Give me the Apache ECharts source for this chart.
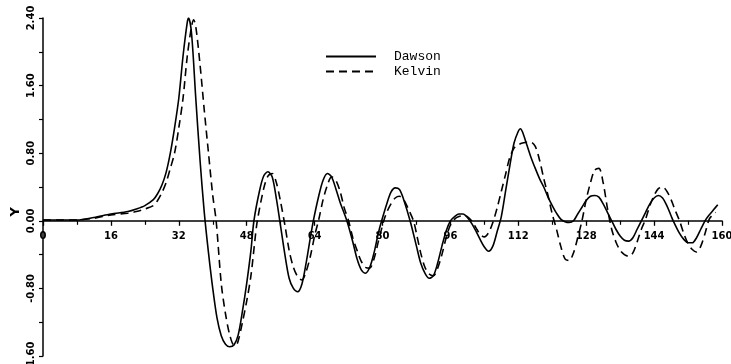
<!DOCTYPE html>
<html>
<head>
<meta charset="utf-8">
<script src="https://cdn.jsdelivr.net/npm/echarts@6/dist/echarts.min.js"></script>
<style>
html,body{margin:0;padding:0;background:#fff;}
#c{width:731px;height:364px;}
</style>
</head>
<body>
<div id="c"></div>
<script>
var xTicks = [0,16,32,48,64,80,96,112,128,144,160];
var yTicks = ["-1.60","-0.80","0.00","0.80","1.60","2.40"];

var dawsonX = [0,4,8,12,16,20,22,24,26,27,28,29,30,31,32,33,34,34.3,35,36,37,38,39,40,41,42,43,44,45,46,47,48,49,49.7,51,52,53,54,55,55.8,57,58,59,60,61,62,63,63.7,65,66,67,68,69,70,71.6,73,74,75,76,77,78,79,79.8,81,82,83,84,85,86.5,88,89,90,91,92,93,94,95,96,97,98,99,100,101,102,103,104,105,106,107,108,109,110,111,112,112.5,113,114,115,116,117,118,119,120,121,122,123,124,125,126,127,128,129,130,131,132,133,134,135,136,137,138,139,140,141,142,143,144,145,146,147,148,148.5,150,151,152,153,154,155,156,157,158,159];
var dawsonY = [0.01,0.01,0.01,0.04,0.08,0.11,0.14,0.18,0.25,0.32,0.42,0.57,0.80,1.10,1.45,1.95,2.35,2.40,2.22,1.45,0.72,0.10,-0.38,-0.80,-1.15,-1.36,-1.46,-1.49,-1.47,-1.35,-1.07,-0.74,-0.35,0.0,0.35,0.53,0.58,0.52,0.26,0.0,-0.40,-0.68,-0.80,-0.84,-0.75,-0.50,-0.20,0.0,0.30,0.48,0.56,0.52,0.38,0.22,0.0,-0.25,-0.45,-0.58,-0.62,-0.55,-0.38,-0.15,0.0,0.20,0.34,0.39,0.37,0.25,0.0,-0.30,-0.50,-0.62,-0.68,-0.65,-0.50,-0.30,-0.12,0.0,0.05,0.08,0.08,0.04,-0.03,-0.12,-0.22,-0.31,-0.36,-0.30,-0.13,0.05,0.35,0.65,0.92,1.06,1.09,1.05,0.90,0.75,0.62,0.50,0.40,0.28,0.18,0.09,0.02,-0.01,-0.02,0.0,0.08,0.16,0.24,0.29,0.30,0.28,0.20,0.10,0.0,-0.10,-0.18,-0.23,-0.24,-0.20,-0.10,0.0,0.10,0.20,0.27,0.30,0.27,0.18,0.06,0.0,-0.15,-0.22,-0.26,-0.26,-0.20,-0.10,0.0,0.07,0.13,0.19];

var kelvinX = [0,4,8,12,16,20,22,24,26,27,28,29,30,31,32,33,34,35,35.5,36,37,38,39,40,40.8,42,43,44,45,45.5,46,47,48,49,50,50.5,52,53,54,55,56,57,58,59,60,61,62,63,64,65,66,67,68,69,70,71,72,73,74,75,76,77,78,79,80.3,81,82,83,84,85,86,87.3,88,89,90,91,92,93,94,95,96,97,98,99,100,101,102,103,104,105,106,107,108,109,110,111,112,113,114,115,116,117,118,119,120,121,122,123,124,125,126,127,128,129,130,131,132,133,134,135,136,137,138,139,140,141,142,143,144,145,146,147,148,149,150,151,152,153,154,155,156,157,158,158.5];
var kelvinY = [0.01,0.01,0.01,0.03,0.07,0.09,0.11,0.14,0.18,0.24,0.33,0.45,0.62,0.80,1.10,1.45,1.95,2.30,2.38,2.30,1.85,1.31,0.80,0.30,0.0,-0.74,-1.10,-1.35,-1.47,-1.47,-1.42,-1.20,-0.95,-0.65,-0.20,0.0,0.38,0.53,0.56,0.45,0.22,-0.05,-0.35,-0.55,-0.66,-0.70,-0.60,-0.42,-0.18,0.02,0.25,0.42,0.52,0.48,0.35,0.15,0.0,-0.20,-0.35,-0.48,-0.55,-0.56,-0.45,-0.25,0.0,0.10,0.20,0.27,0.29,0.25,0.15,0.0,-0.15,-0.38,-0.55,-0.63,-0.65,-0.56,-0.40,-0.20,-0.05,0.02,0.05,0.06,0.05,0.0,-0.08,-0.16,-0.19,-0.14,-0.02,0.15,0.35,0.55,0.75,0.86,0.90,0.92,0.93,0.93,0.88,0.72,0.50,0.30,0.08,-0.10,-0.30,-0.45,-0.47,-0.38,-0.20,0.0,0.25,0.45,0.60,0.62,0.45,0.15,-0.10,-0.25,-0.35,-0.40,-0.42,-0.38,-0.25,-0.10,0.02,0.18,0.30,0.38,0.40,0.35,0.25,0.12,0.0,-0.15,-0.27,-0.34,-0.37,-0.30,-0.15,0.02,0.08,0.10];

function pairs(xs, ys){ return xs.map(function(x,i){ return [x, ys[i]]; }); }

var yMin = -1.6, yMax = 2.4;
var gridTop = 18, gridBottom = 8, H = 364;
var plotH = H - gridTop - gridBottom;
// distance from bottom edge of plot to the y=0 line, derived from the axis scale
var zeroOffset = plotH * (0 - yMin) / (yMax - yMin);

var chart = echarts.init(document.getElementById('c'), null, {renderer:'canvas'});
var axisFont = {color:'#000', fontFamily:'DejaVu Sans', fontWeight:'bold', fontSize:10};
chart.setOption({
  animation:false,
  backgroundColor:'#fff',
  grid:{left:43, right:9, top:gridTop, bottom:gridBottom, containLabel:false, outerBoundsMode:'none'},
  legend:{
    orient:'vertical', left:325, top:50, padding:0,
    itemWidth:50, itemHeight:10, itemGap:2,
    data:['Dawson','Kelvin'],
    itemStyle:{opacity:0, borderWidth:0},
    textStyle:{fontFamily:'Liberation Mono', fontSize:13, lineHeight:13, color:'#000', padding:[0,0,0,13]}
  },
  xAxis:{
    type:'value', min:xTicks[0], max:xTicks[xTicks.length-1], interval:16,
    position:'bottom', offset:-zeroOffset,
    axisLine:{onZero:false, lineStyle:{color:'#000', width:1.5}},
    axisTick:{show:true, length:5, lineStyle:{color:'#000', width:1.3}},
    minorTick:{show:true, splitNumber:2, length:4, lineStyle:{color:'#000', width:1.2}},
    splitLine:{show:false},
    axisLabel:Object.assign({margin:11, formatter:function(v){ return xTicks.indexOf(v)>=0 ? String(v) : ''; }}, axisFont)
  },
  yAxis:{
    type:'value', min:yMin, max:yMax, interval:0.8,
    axisLine:{show:true, lineStyle:{color:'#000', width:1.5}},
    axisTick:{show:true, length:4, lineStyle:{color:'#000', width:1.2}},
    minorTick:{show:true, splitNumber:2, length:4, lineStyle:{color:'#000', width:1.2}},
    splitLine:{show:false},
    axisLabel:Object.assign({rotate:90, margin:7, formatter:function(v){
      var idx = Math.round((v - yMin)/0.8); return yTicks[idx] || ''; }}, axisFont)
  },
  graphic:[{
    type:'text', left:9, top:207, rotation:Math.PI/2,
    style:{text:'Y', fill:'#000', font:'bold 13px DejaVu Sans'}
  }],
  series:[
    {name:'Dawson', type:'line', data:pairs(dawsonX,dawsonY), smooth:0.3, symbol:'none',
     lineStyle:{color:'#000', width:1.6, type:'solid'}, itemStyle:{color:'#000'}},
    {name:'Kelvin', type:'line', data:pairs(kelvinX,kelvinY), smooth:0.3, symbol:'none',
     lineStyle:{color:'#000', width:1.6, type:[8,5]}, itemStyle:{color:'#000'}}
  ]
});
</script>
</body>
</html>
